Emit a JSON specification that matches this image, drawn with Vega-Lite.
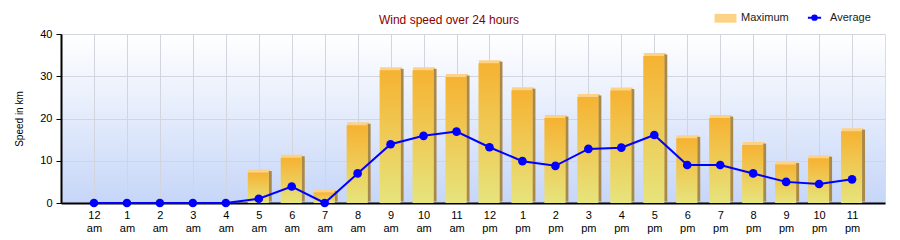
{
  "$schema": "https://vega.github.io/schema/vega-lite/v6.json",
  "width": 824,
  "height": 169,
  "autosize": "none",
  "padding": {"left": 61, "top": 34, "right": 15, "bottom": 37},
  "background": "white",
  "view": {
    "fill": {"gradient": "linear", "x1": 0, "y1": 0, "x2": 0, "y2": 1, "stops": [{"offset": 0, "color": "#ffffff"}, {"offset": 1, "color": "#c6d6f8"}]},
    "stroke": "#dcdcdc"
  },
  "title": {"text": "Wind speed over 24 hours", "color": "#8b0000", "fontSize": 12, "font": "Liberation Sans", "fontWeight": "normal", "anchor": "middle", "dx": -24, "offset": 11, "dy": 26},
  "config": {"font": "Liberation Sans"},
  "data": {"values": [
    {"hour": "12 am", "max": 0, "avg": 0},
    {"hour": "1 am", "max": 0, "avg": 0},
    {"hour": "2 am", "max": 0, "avg": 0},
    {"hour": "3 am", "max": 0, "avg": 0},
    {"hour": "4 am", "max": 0, "avg": 0},
    {"hour": "5 am", "max": 7.2, "avg": 1},
    {"hour": "6 am", "max": 10.7, "avg": 3.9},
    {"hour": "7 am", "max": 2.5, "avg": 0},
    {"hour": "8 am", "max": 18.4, "avg": 7},
    {"hour": "9 am", "max": 31.4, "avg": 13.9},
    {"hour": "10 am", "max": 31.4, "avg": 15.9},
    {"hour": "11 am", "max": 29.8, "avg": 16.9},
    {"hour": "12 pm", "max": 33.1, "avg": 13.2},
    {"hour": "1 pm", "max": 26.7, "avg": 9.9},
    {"hour": "2 pm", "max": 20.1, "avg": 8.8},
    {"hour": "3 pm", "max": 25.1, "avg": 12.8},
    {"hour": "4 pm", "max": 26.6, "avg": 13.1},
    {"hour": "5 pm", "max": 34.8, "avg": 16.1},
    {"hour": "6 pm", "max": 15.3, "avg": 9},
    {"hour": "7 pm", "max": 20.1, "avg": 9},
    {"hour": "8 pm", "max": 13.7, "avg": 7},
    {"hour": "9 pm", "max": 9.1, "avg": 5},
    {"hour": "10 pm", "max": 10.6, "avg": 4.5},
    {"hour": "11 pm", "max": 17, "avg": 5.6}
  ]},
  "encoding": {
    "x": {
      "field": "hour", "type": "ordinal", "sort": null,
      "scale": {"type": "point", "padding": 1},
      "axis": {
        "title": null, "labelAngle": 0, "labelExpr": "split(datum.label, ' ')",
        "ticks": false, "domainColor": "#000000", "domainWidth": 2,
        "grid": true, "gridColor": "#d2d5de",
        "labelFont": "Liberation Sans", "labelFontSize": 11, "labelColor": "#000000",
        "labelPadding": 6, "labelLineHeight": 13
      }
    }
  },
  "layer": [
    {
      "mark": {"type": "bar", "width": 22, "xOffset": 0.5, "yOffset": -3},
      "encoding": {
        "y": {
          "field": "max", "type": "quantitative",
          "scale": {"domain": [0, 40]},
          "axis": {
            "title": "Speed in km", "titleFontSize": 10, "titleFontWeight": "normal", "titleFont": "Liberation Sans", "titleColor": "#000000", "titlePadding": 15,
            "values": [0, 10, 20, 30, 40], "domainColor": "#000000", "domainWidth": 2,
            "tickColor": "#000000", "tickSize": 5, "labelFontSize": 11, "labelFont": "Liberation Sans", "labelColor": "#000000", "labelPadding": 4,
            "gridColor": "#d2d5de"
          }
        },
        "color": {
          "datum": "Maximum",
          "scale": {"domain": ["Maximum", "Average"], "range": ["#fcd286", "#0000ff"]},
          "legend": {
            "title": null, "orient": "none", "legendX": 659, "legendY": -22, "direction": "horizontal",
            "padding": 0, "labelFont": "Liberation Sans", "labelFontSize": 11, "labelColor": "#1a1a1a",
            "symbolSize": 484, "labelOffset": 10, "columnPadding": 14, "symbolOpacity": 1,
            "encode": {
              "symbols": {
                "update": {
                  "shape": {"signal": "datum.value === 'Average' ? 'M-0.6,0H0.6M-0.2,0A0.2,0.2 0 1,1 0.2,0A0.2,0.2 0 1,1 -0.2,0' : 'M-1,-0.4H1V0.4H-1Z'"},
                  "fill": {"signal": "datum.value === 'Average' ? '#0000ff' : {gradient: 'linear', x1: 0, y1: 0, x2: 0, y2: 1, stops: [{offset: 0, color: '#fbc75a'}, {offset: 1, color: '#fde89c'}]}"},
                  "stroke": {"signal": "datum.value === 'Average' ? '#0000ff' : null"},
                  "strokeWidth": {"signal": "datum.value === 'Average' ? 2 : 0"}
                }
              }
            }
          }
        }
      }
    },
    {
      "mark": {"type": "bar", "width": 3, "xOffset": 11.5, "yOffset": -1.5, "color": "#a8894a"},
      "encoding": {"y": {"field": "max", "type": "quantitative"}}
    },
    {
      "mark": {
        "type": "bar", "width": 21, "xOffset": -0.5,
        "color": {"gradient": "linear", "x1": 0, "y1": 0, "x2": 0, "y2": 1, "stops": [{"offset": 0, "color": "#f6b232"}, {"offset": 1, "color": "#e6e47c"}]}
      },
      "encoding": {"y": {"field": "max", "type": "quantitative"}}
    },
    {
      "mark": {"type": "line", "strokeWidth": 2, "point": {"filled": true, "size": 75, "color": "#0000ff", "opacity": 1}},
      "encoding": {
        "y": {"field": "avg", "type": "quantitative"},
        "color": {"datum": "Average"}
      }
    }
  ]
}
